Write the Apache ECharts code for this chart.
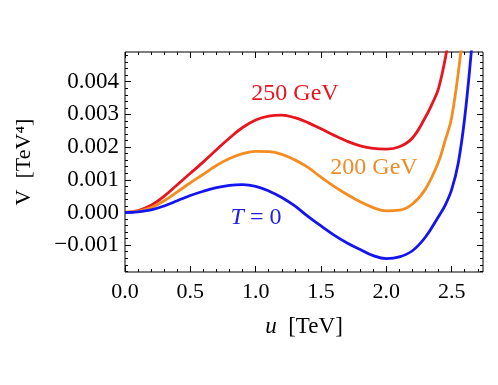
<!DOCTYPE html>
<html>
<head>
<meta charset="utf-8">
<style>
  html, body { margin: 0; padding: 0; background: #fff; }
  #chart { width: 498px; height: 385px; }
</style>
<script src="https://cdn.jsdelivr.net/npm/echarts@6/dist/echarts.min.js"></script>
</head>
<body>
<div id="chart"></div>
<script>
// T = 0
var uT0 = [0, 0.1, 0.2, 0.3, 0.4, 0.5, 0.6, 0.7, 0.8, 0.9, 1.0, 1.1, 1.2, 1.3, 1.4, 1.5, 1.6, 1.7, 1.8, 1.9, 2.0, 2.1, 2.2, 2.3, 2.4, 2.45, 2.5, 2.55, 2.6, 2.65, 2.7];
var vT0 = [0, 0.00002, 0.00008, 0.0002, 0.00036, 0.00052, 0.00065, 0.00076, 0.00083, 0.00085, 0.0008, 0.00066, 0.00046, 0.0002, -0.00012, -0.00041, -0.00069, -0.00093, -0.00113, -0.00132, -0.00141, -0.00136, -0.00117, -0.00075, -0.00012, 0.00022, 0.0007, 0.0015, 0.0029, 0.0049, 0.0072];
// 200 GeV
var u200 = [0, 0.1, 0.2, 0.3, 0.4, 0.5, 0.6, 0.7, 0.8, 0.9, 1.0, 1.1, 1.2, 1.3, 1.4, 1.5, 1.6, 1.7, 1.8, 1.9, 2.0, 2.1, 2.2, 2.3, 2.4, 2.45, 2.5, 2.57, 2.62];
var v200 = [0, 0.00004, 0.00015, 0.00036, 0.00063, 0.00091, 0.00117, 0.00144, 0.00165, 0.0018, 0.00187, 0.00186, 0.00178, 0.00161, 0.00138, 0.00108, 0.0008, 0.00055, 0.00033, 0.00015, 0.00005, 0.00007, 0.00026, 0.00072, 0.00155, 0.0022, 0.0029, 0.0049, 0.0068];
// 250 GeV
var u250 = [0, 0.1, 0.2, 0.3, 0.4, 0.5, 0.6, 0.7, 0.8, 0.9, 1.0, 1.1, 1.2, 1.3, 1.4, 1.5, 1.6, 1.7, 1.8, 1.9, 2.0, 2.1, 2.2, 2.3, 2.35, 2.4, 2.46, 2.52];
var v250 = [0, 0.00006, 0.00022, 0.0005, 0.00085, 0.0012, 0.00155, 0.00192, 0.00228, 0.0026, 0.00283, 0.00295, 0.00298, 0.0029, 0.00275, 0.00256, 0.00236, 0.00218, 0.00204, 0.00196, 0.00194, 0.00201, 0.00228, 0.00292, 0.00332, 0.0038, 0.0049, 0.0065];

var xTicks = [0, 0.5, 1.0, 1.5, 2.0, 2.5];
var yTicks = [-0.001, 0, 0.001, 0.002, 0.003, 0.004];

var xMin = 0, xMax = 2.74;
var yMin = -0.00182, yMax = 0.00491;

var serif = '"Liberation Serif", "DejaVu Serif", serif';

function pairs(us, vs) {
  var out = [];
  for (var i = 0; i < us.length; i++) out.push([us[i], vs[i]]);
  return out;
}
// minor tick positions
function steps(from, to, step) {
  var arr = [];
  var n = Math.round((to - from) / step);
  for (var i = 0; i <= n; i++) arr.push(+(from + i * step).toFixed(6));
  return arr;
}
var xMinor = steps(0, 2.7, 0.1);
var yMinor = steps(-0.0018, 0.0048, 0.0002);

function xAx(pos, vals, len, labels) {
  return {
    type: 'value', position: pos, min: xMin, max: xMax,
    axisLine: { show: false, onZero: false },
    splitLine: { show: false },
    axisTick: { show: true, inside: true, length: len, customValues: vals, lineStyle: { color: '#000', width: 1 } },
    axisLabel: labels ? {
      show: true, customValues: vals, margin: 9,
      fontFamily: serif, fontSize: 22, color: '#000',
      formatter: function (v) { return v.toFixed(1); }
    } : { show: false }
  };
}
function yAx(pos, vals, len, labels) {
  return {
    type: 'value', position: pos, min: yMin, max: yMax,
    axisLine: { show: false, onZero: false },
    splitLine: { show: false },
    axisTick: { show: true, inside: true, length: len, customValues: vals, lineStyle: { color: '#000', width: 1 } },
    axisLabel: labels ? {
      show: true, customValues: vals, margin: 6,
      fontFamily: serif, fontSize: 23, color: '#000',
      formatter: function (v) {
        var s = Math.abs(v).toFixed(3);
        return v < -1e-9 ? '\u2212' + s : s;
      }
    } : { show: false }
  };
}

var xs = [xAx('bottom', xTicks, 6, true), xAx('bottom', xMinor, 3, false), xAx('top', xTicks, 6, false), xAx('top', xMinor, 3, false)];
xs[0].name = '{i|u}  [TeV]';
xs[0].nameLocation = 'middle';
xs[0].nameGap = 43;
xs[0].nameTextStyle = { fontFamily: serif, fontSize: 23, color: '#000', rich: { i: { fontStyle: 'italic', fontFamily: serif, fontSize: 23 } } };

var ys = [yAx('left', yTicks, 6, true), yAx('left', yMinor, 3, false), yAx('right', yTicks, 6, false), yAx('right', yMinor, 3, false)];
ys[0].name = 'V  [TeV\u2074]';
ys[0].nameLocation = 'middle';
ys[0].nameGap = 90;
ys[0].nameRotate = 90;
ys[0].nameTextStyle = { fontFamily: serif, fontSize: 22, color: '#000' };

var chart = echarts.init(document.getElementById('chart'));
chart.setOption({
  animation: false,
  backgroundColor: '#fff',
  grid: { left: 125, right: 15, top: 52, bottom: 113, show: true, borderColor: '#000', borderWidth: 1, backgroundColor: 'transparent' },
  xAxis: xs,
  yAxis: ys,
  series: [
    { name: 'T = 0', type: 'line', data: pairs(uT0, vT0), smooth: 0.4, showSymbol: false, clip: true, lineStyle: { color: '#1414ee', width: 2.8 }, z: 3 },
    { name: '200 GeV', type: 'line', data: pairs(u200, v200), smooth: 0.4, showSymbol: false, clip: true, lineStyle: { color: '#f48c20', width: 2.8 }, z: 2 },
    { name: '250 GeV', type: 'line', data: pairs(u250, v250), smooth: 0.4, showSymbol: false, clip: true, lineStyle: { color: '#e8141e', width: 2.8 }, z: 1 }
  ],
  graphic: [
    { type: 'text', x: 295, y: 94, style: { text: '250 GeV', font: '24px ' + serif, fill: '#e8141e', align: 'center', verticalAlign: 'middle' } },
    { type: 'text', x: 374, y: 168, style: { text: '200 GeV', font: '24px ' + serif, fill: '#f08c28', align: 'center', verticalAlign: 'middle' } },
    { type: 'text', x: 256, y: 218, style: { text: '{i|T} = 0', font: '24px ' + serif, fill: '#1e1ee6', align: 'center', verticalAlign: 'middle', rich: { i: { fontStyle: 'italic', font: 'italic 24px ' + serif, fill: '#1e1ee6' } } } }
  ]
});
</script>
</body>
</html>
